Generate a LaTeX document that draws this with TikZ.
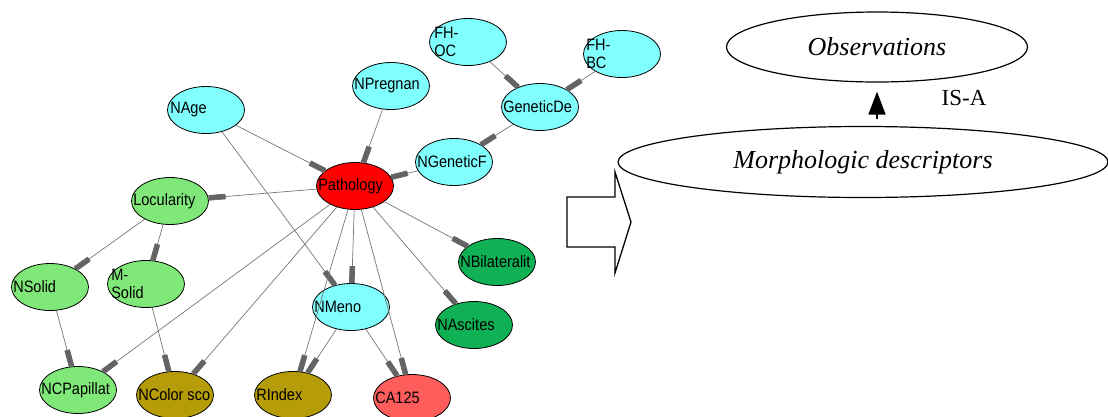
\documentclass[tikz,border=0pt]{standalone}
\usepackage{fontspec}
\setmainfont{Liberation Serif}
\newfontfamily\huginfont[FakeStretch=0.88]{Liberation Sans}
\usetikzlibrary{shapes.geometric,arrows.meta,positioning}

\definecolor{bnCyan}{RGB}{128,255,255}
\definecolor{bnRed}{RGB}{255,0,0}
\definecolor{bnLight}{RGB}{128,232,120}
\definecolor{bnDark}{RGB}{16,176,84}
\definecolor{bnOlive}{RGB}{182,156,8}
\definecolor{bnSalmon}{RGB}{255,92,92}
\definecolor{bnLine}{RGB}{118,118,118}
\definecolor{bnBar}{RGB}{100,100,100}

\begin{document}
\begin{tikzpicture}[x=1pt,y=-1pt,
  var/.style={ellipse,draw=black,line width=0.8pt,minimum width=77pt,minimum height=47pt,inner sep=0pt},
  lbl/.style={inner sep=0pt,font=\huginfont\fontsize{16.5}{18}\selectfont,align=left},
  link/.style={draw=bnLine,line width=0.7pt,-{Rectangle[length=17pt,width=5.5pt,color=bnBar]}},
  concept/.style={ellipse,draw=black,line width=1.2pt,inner sep=0pt,font=\fontsize{26}{30}\selectfont\itshape}]

\useasboundingbox (0,0) rectangle (1108,416);

\node[var,fill=bnCyan] (fhoc) at (468,42) {};
\node[var,fill=bnCyan] (fhbc) at (622,54) {};
\node[var,fill=bnCyan] (npreg) at (391,86) {};
\node[var,fill=bnCyan] (nage) at (206,110) {};
\node[var,fill=bnCyan] (gendef) at (540,107) {};
\node[var,fill=bnCyan] (ngenf) at (454,162) {};
\node[var,fill=bnRed] (path) at (355,186) {};
\node[var,fill=bnLight] (locul) at (170,201) {};
\node[var,fill=bnLight] (nsolid) at (50,287) {};
\node[var,fill=bnLight] (msolid) at (146,284) {};
\node[var,fill=bnDark] (nbilat) at (497,262) {};
\node[var,fill=bnCyan] (nmeno) at (351,307) {};
\node[var,fill=bnDark] (nasc) at (474,325) {};
\node[var,fill=bnLight] (ncpap) at (78,390) {};
\node[var,fill=bnOlive] (ncolor) at (175,395) {};
\node[var,fill=bnOlive] (rindex) at (293,395) {};
\node[var,fill=bnSalmon] (ca125) at (412,398) {};

\node[lbl,right=5pt of fhoc.west] (fhoctxt) {FH-\\OC};
\node[lbl,right=3pt of fhbc.west] (fhbctxt) {FH-\\BC};
\node[lbl,right=2pt of npreg.west] (npregtxt) {NPregnan};
\node[lbl,right=3pt of nage.west] (nagetxt) {NAge};
\node[lbl,right=2pt of gendef.west] (gendeftxt) {GeneticDe};
\node[lbl,right=2pt of ngenf.west] (ngenftxt) {NGeneticF};
\node[lbl,right=2pt of path.west] (pathtxt) {Pathology};
\node[lbl,right=2pt of locul.west] (locultxt) {Locularity};
\node[lbl,right=2pt of nsolid.west] (nsolidtxt) {NSolid};
\node[lbl,right=4pt of msolid.west] (msolidtxt) {M-\\Solid};
\node[lbl,right=2pt of nbilat.west] (nbilattxt) {NBilateralit};
\node[lbl,right=2pt of nmeno.west] (nmenotxt) {NMeno};
\node[lbl,right=2pt of nasc.west] (nasctxt) {NAscites};
\node[lbl,right=2pt of ncpap.west] (ncpaptxt) {NCPapillat};
\node[lbl,right=2pt of ncolor.west] (ncolortxt) {NColor sco};
\node[lbl,right=2pt of rindex.west] (rindextxt) {RIndex};
\node[lbl,right=2pt of ca125.west] (ca125txt) {CA125};

\draw[link] (nage) -- (path);
\draw[link] (nage) -- (nmeno);
\draw[link] (npreg) -- (path);
\draw[link] (fhoc) -- (gendef);
\draw[link] (fhbc) -- (gendef);
\draw[link] (gendef) -- (ngenf);
\draw[link] (ngenf) -- (path);
\draw[link] (path) -- (locul);
\draw[link] (locul) -- (nsolid);
\draw[link] (locul) -- (msolid);
\draw[link] (nsolid) -- (ncpap);
\draw[link] (msolid) -- (ncolor);
\draw[link] (path) -- (ncpap);
\draw[link] (path) -- (ncolor);
\draw[link] (path) -- (nmeno);
\draw[link] (path) -- (rindex);
\draw[link] (path) -- (ca125);
\draw[link] (path) -- (nbilat);
\draw[link] (path) -- (nasc);
\draw[link] (nmeno) -- (rindex);
\draw[link] (nmeno) -- (ca125);

\draw[line width=1.3pt,line join=miter] (567,197) -- (615,197) -- (615,172) -- (631,222)
  -- (615,273) -- (615,247) -- (567,247) -- cycle;

\node[concept,minimum width=301pt,minimum height=70pt] (obs) at (877,47) {Observations};
\node[concept,minimum width=490pt,minimum height=71pt] (morph) at (863,162) {Morphologic descriptors};
\draw[line width=1.5pt,-{Triangle[length=23pt,width=17pt]},shorten <=7pt,shorten >=9pt]
  (obs.south |- morph.north) -- (obs.south);
\node[font=\fontsize{23}{26}\selectfont] (isa) at (964,98) {IS-A};

\end{tikzpicture}
\end{document}
